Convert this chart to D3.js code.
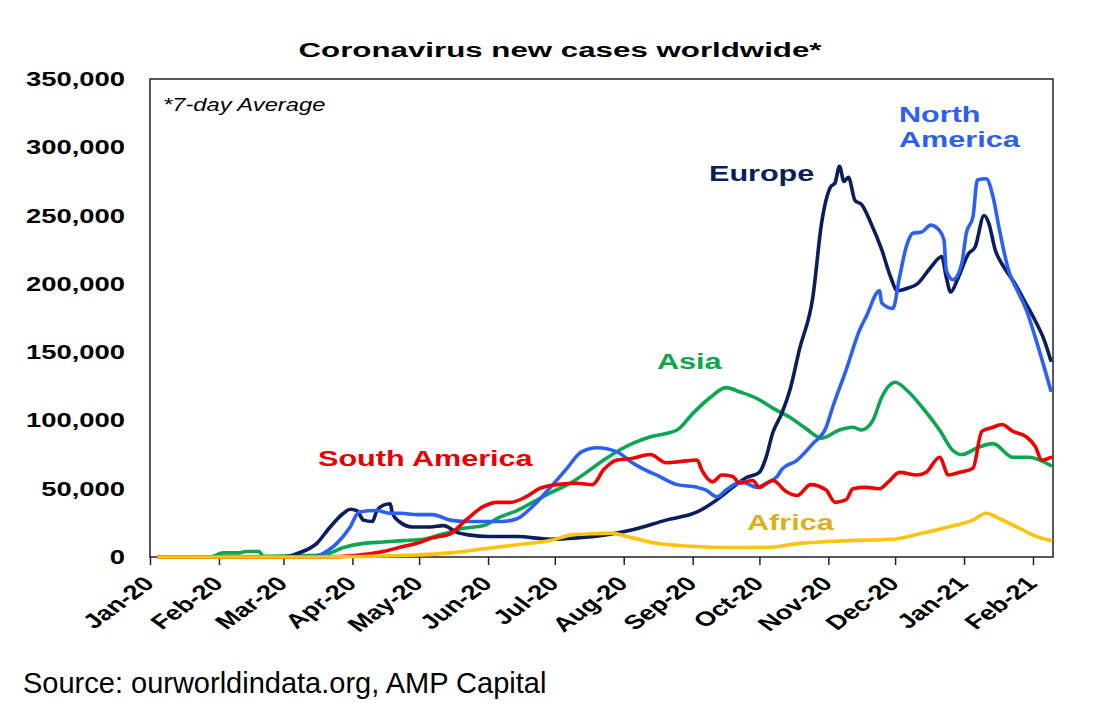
<!DOCTYPE html>
<html>
<head>
<meta charset="utf-8">
<script src="https://cdn.jsdelivr.net/npm/d3@7"></script>
<style>
  body { margin: 0; background: #fff; }
  text { font-family: "Liberation Sans", Arial, sans-serif; }
</style>
</head>
<body>
<svg id="chart" width="1098" height="720"></svg>
<script>
// 7-day average new cases
const europe = [
  ["2020-01-05", 0], ["2020-03-01", 0], ["2020-03-08", 3000], ["2020-03-16", 10000],
  ["2020-03-22", 22000], ["2020-03-28", 32000], ["2020-03-31", 35000], ["2020-04-03", 34000],
  ["2020-04-06", 27000], ["2020-04-10", 26000], ["2020-04-12", 34000], ["2020-04-15", 38000],
  ["2020-04-18", 39000], ["2020-04-19", 32000], ["2020-04-22", 26000], ["2020-04-28", 22000],
  ["2020-05-06", 22000], ["2020-05-12", 23000], ["2020-05-18", 18000], ["2020-05-24", 16000],
  ["2020-06-01", 15000], ["2020-06-14", 15000], ["2020-06-29", 13000], ["2020-07-11", 14000],
  ["2020-07-23", 16000], ["2020-08-05", 20000], ["2020-08-20", 27000], ["2020-09-03", 33000],
  ["2020-09-12", 42000], ["2020-09-19", 51000], ["2020-09-25", 58000], ["2020-10-01", 62000],
  ["2020-10-04", 73000], ["2020-10-07", 91000], ["2020-10-11", 105000], ["2020-10-15", 124000],
  ["2020-10-19", 152000], ["2020-10-25", 190000], ["2020-10-29", 245000], ["2020-11-02", 271000],
  ["2020-11-04", 274000], ["2020-11-06", 286000], ["2020-11-08", 275000], ["2020-11-10", 278000],
  ["2020-11-13", 261000], ["2020-11-16", 258000], ["2020-11-20", 245000], ["2020-11-25", 225000],
  ["2020-11-29", 205000], ["2020-12-02", 195000], ["2020-12-07", 197000], ["2020-12-11", 200000],
  ["2020-12-17", 212000], ["2020-12-22", 220000], ["2020-12-24", 205000], ["2020-12-26", 194000],
  ["2020-12-29", 203000], ["2021-01-03", 222000], ["2021-01-06", 227000], ["2021-01-10", 250000],
  ["2021-01-12", 245000], ["2021-01-15", 225000], ["2021-01-19", 212000], ["2021-01-24", 200000],
  ["2021-01-28", 188000], ["2021-02-02", 173000], ["2021-02-06", 159000], ["2021-02-09", 144000]
];

const northAmerica = [
  ["2020-01-05", 0], ["2020-03-14", 0], ["2020-03-18", 2000], ["2020-03-25", 10000],
  ["2020-03-31", 22000], ["2020-04-04", 33000], ["2020-04-12", 34000], ["2020-04-18", 32000],
  ["2020-04-23", 32000], ["2020-04-30", 31000], ["2020-05-07", 31000], ["2020-05-15", 27000],
  ["2020-05-22", 26000], ["2020-05-29", 26000], ["2020-06-07", 26000], ["2020-06-14", 28000],
  ["2020-06-21", 37000], ["2020-06-29", 51000], ["2020-07-06", 64000], ["2020-07-13", 77000],
  ["2020-07-20", 80000], ["2020-07-29", 77000], ["2020-08-04", 70000], ["2020-08-08", 66000],
  ["2020-08-17", 59000], ["2020-08-25", 53000], ["2020-09-03", 51000], ["2020-09-07", 49000],
  ["2020-09-12", 44000], ["2020-09-16", 49000], ["2020-09-23", 55000], ["2020-09-30", 51000],
  ["2020-10-04", 54000], ["2020-10-09", 59000], ["2020-10-11", 64000], ["2020-10-18", 71000],
  ["2020-10-25", 83000], ["2020-10-31", 95000], ["2020-11-03", 110000], ["2020-11-09", 137000],
  ["2020-11-15", 166000], ["2020-11-18", 176000], ["2020-11-24", 195000], ["2020-11-25", 186000],
  ["2020-11-30", 182000], ["2020-12-03", 205000], ["2020-12-06", 227000], ["2020-12-09", 237000],
  ["2020-12-13", 238000], ["2020-12-17", 243000], ["2020-12-21", 239000], ["2020-12-23", 232000],
  ["2020-12-24", 210000], ["2020-12-27", 203000], ["2020-12-31", 215000], ["2021-01-02", 237000],
  ["2021-01-05", 249000], ["2021-01-07", 276000], ["2021-01-11", 277000], ["2021-01-14", 264000],
  ["2021-01-17", 239000], ["2021-01-21", 210000], ["2021-01-25", 195000], ["2021-01-29", 181000],
  ["2021-02-02", 161000], ["2021-02-09", 122000]
];

const asia = [
  ["2020-01-05", 0], ["2020-01-28", 0], ["2020-02-03", 3000], ["2020-02-10", 3000],
  ["2020-02-13", 4000], ["2020-02-19", 4000], ["2020-02-21", 500], ["2020-03-08", 1000],
  ["2020-03-19", 1500], ["2020-03-28", 7000], ["2020-04-06", 10000], ["2020-04-15", 11000],
  ["2020-04-24", 12000], ["2020-05-03", 13000], ["2020-05-12", 17000], ["2020-05-21", 21000],
  ["2020-05-30", 23000], ["2020-06-06", 29000], ["2020-06-14", 34000], ["2020-06-21", 40000],
  ["2020-06-29", 47000], ["2020-07-08", 54000], ["2020-07-17", 64000], ["2020-07-23", 71000],
  ["2020-08-01", 80000], ["2020-08-13", 88000], ["2020-08-25", 93000], ["2020-09-01", 105000],
  ["2020-09-09", 117000], ["2020-09-16", 124000], ["2020-09-22", 121000], ["2020-09-30", 116000],
  ["2020-10-07", 109000], ["2020-10-15", 102000], ["2020-10-22", 94000], ["2020-10-29", 87000],
  ["2020-11-06", 93000], ["2020-11-12", 95000], ["2020-11-16", 93000], ["2020-11-21", 100000],
  ["2020-11-25", 117000], ["2020-12-01", 128000], ["2020-12-07", 121000], ["2020-12-13", 110000],
  ["2020-12-21", 93000], ["2020-12-27", 78000], ["2020-12-31", 75000], ["2021-01-07", 80000],
  ["2021-01-14", 83000], ["2021-01-23", 73000], ["2021-01-30", 73000], ["2021-02-09", 67000]
];

const southAmerica = [
  ["2020-01-05", 0], ["2020-03-20", 0], ["2020-04-15", 4000], ["2020-04-22", 7000],
  ["2020-04-30", 10000], ["2020-05-07", 14000], ["2020-05-15", 17000], ["2020-05-22", 27000],
  ["2020-05-30", 37000], ["2020-06-05", 40000], ["2020-06-11", 40000], ["2020-06-18", 44000],
  ["2020-06-24", 50000], ["2020-07-02", 53000], ["2020-07-11", 54000], ["2020-07-18", 53000],
  ["2020-07-23", 64000], ["2020-07-29", 71000], ["2020-08-04", 72000], ["2020-08-13", 75000],
  ["2020-08-20", 69000], ["2020-08-27", 70000], ["2020-09-03", 71000], ["2020-09-05", 64000],
  ["2020-09-10", 55000], ["2020-09-14", 60000], ["2020-09-19", 59000], ["2020-09-22", 54000],
  ["2020-09-28", 56000], ["2020-10-01", 51000], ["2020-10-07", 56000], ["2020-10-13", 48000],
  ["2020-10-18", 45000], ["2020-10-24", 53000], ["2020-10-31", 49000], ["2020-11-04", 40000],
  ["2020-11-09", 42000], ["2020-11-12", 50000], ["2020-11-18", 51000], ["2020-11-24", 50000],
  ["2020-11-28", 55000], ["2020-12-03", 62000], ["2020-12-11", 60000], ["2020-12-15", 62000],
  ["2020-12-21", 73000], ["2020-12-25", 60000], ["2020-12-30", 62000], ["2021-01-05", 65000],
  ["2021-01-09", 92000], ["2021-01-14", 95000], ["2021-01-18", 97000], ["2021-01-23", 92000],
  ["2021-01-29", 88000], ["2021-02-02", 81000], ["2021-02-05", 71000], ["2021-02-09", 73000]
];

const africa = [
  ["2020-01-05", 0], ["2020-03-15", 0], ["2020-04-30", 1500], ["2020-05-15", 3000],
  ["2020-05-30", 6000], ["2020-06-14", 9000], ["2020-06-29", 12000], ["2020-07-08", 16000],
  ["2020-07-17", 17000], ["2020-07-26", 17500], ["2020-08-05", 14000], ["2020-08-16", 10000],
  ["2020-08-29", 8000], ["2020-09-14", 7000], ["2020-10-04", 7000], ["2020-10-19", 10000],
  ["2020-11-10", 12000], ["2020-11-30", 13000], ["2020-12-12", 17000], ["2020-12-25", 22000],
  ["2021-01-05", 27000], ["2021-01-11", 32000], ["2021-01-17", 28000], ["2021-01-26", 21000],
  ["2021-02-01", 16000], ["2021-02-09", 12000]
];

const yTicks = [0, 50000, 100000, 150000, 200000, 250000, 300000, 350000];

// drawn back to front
const regions = [
  { name: "Asia", data: asia, color: "#0ba64f" },
  { name: "Europe", data: europe, color: "#0a1d5c" },
  { name: "North America", data: northAmerica, color: "#2b60f2" },
  { name: "South America", data: southAmerica, color: "#f00000" },
  { name: "Africa", data: africa, color: "#ffc20e" }
];

const stretch = 1.37; // the reference text is drawn wide

const svg = d3.select("#chart");
const plotLeft = 150, plotRight = 1053, plotTop = 79, plotBottom = 557;

const parse = d3.timeParse("%Y-%m-%d");
const x = d3.scaleTime()
  .domain([new Date(2020, 0, 1), new Date(2021, 1, 10)])
  .range([plotLeft, plotRight]);
const y = d3.scaleLinear().domain([0, 350000]).range([plotBottom, plotTop]);

// title
svg.append("text")
  .attr("transform", `translate(560,57) scale(1.49,1)`)
  .attr("text-anchor", "middle")
  .attr("font-size", 21)
  .attr("font-weight", "bold")
  .text("Coronavirus new cases worldwide*");

// y labels
svg.append("g").selectAll("text")
  .data(yTicks)
  .join("text")
  .attr("transform", (d) => `translate(125,${y(d) + 7}) scale(${stretch},1)`)
  .attr("text-anchor", "end")
  .attr("font-size", 20)
  .attr("font-weight", "bold")
  .text(d3.format(","));

// x axis with monthly ticks
const xAxis = svg.append("g")
  .attr("transform", `translate(0,${plotBottom})`)
  .call(d3.axisBottom(x).ticks(d3.timeMonth.every(1)).tickFormat(d3.timeFormat("%b-%y")).tickSize(8));
xAxis.select(".domain").remove();
xAxis.selectAll("line").attr("stroke", "#222").attr("stroke-width", 1.5);
xAxis.selectAll("text")
  .attr("x", null).attr("dy", null).attr("y", null)
  .attr("transform", `translate(5,28) scale(${stretch},1) rotate(-45)`)
  .attr("text-anchor", "end")
  .attr("font-size", 20)
  .attr("font-weight", "bold")
  .attr("font-family", "Liberation Sans, Arial, sans-serif")
  .attr("fill", "#000");

// plot frame
svg.append("rect")
  .attr("x", plotLeft).attr("y", plotTop)
  .attr("width", plotRight - plotLeft).attr("height", plotBottom - plotTop)
  .attr("fill", "none")
  .attr("stroke", "#222")
  .attr("stroke-width", 1.5);

svg.append("text")
  .attr("transform", `translate(163,111) scale(1.25,1)`)
  .attr("font-size", 19)
  .attr("font-style", "italic")
  .text("*7-day Average");

// series lines
const line = d3.line()
  .x((d) => x(parse(d[0])))
  .y((d) => y(d[1]))
  .curve(d3.curveMonotoneX);

svg.append("g").selectAll("path")
  .data(regions)
  .join("path")
  .attr("d", (d) => line(d.data))
  .attr("fill", "none")
  .attr("stroke", (d) => d.color)
  .attr("stroke-width", 3.6)
  .attr("stroke-linejoin", "round")
  .attr("stroke-linecap", "round");

// series labels
const labels = [
  { lines: ["Europe"], x: 709, y: 181, color: "#0a1d5c" },
  { lines: ["North", "America"], x: 899, y: 122, color: "#2b60f2" },
  { lines: ["Asia"], x: 657, y: 369, color: "#0ba64f" },
  { lines: ["South America"], x: 318, y: 466, color: "#e80000" },
  { lines: ["Africa"], x: 747, y: 530, color: "#dcb01c" }
];
labels.forEach((l) => {
  l.lines.forEach((t, i) => {
    svg.append("text")
      .attr("transform", `translate(${l.x},${l.y + i * 25}) scale(1.39,1)`)
      .attr("font-size", 22)
      .attr("font-weight", "bold")
      .attr("fill", l.color)
      .text(t);
  });
});

svg.append("text")
  .attr("x", 23).attr("y", 693)
  .attr("font-size", 29)
  .text("Source: ourworldindata.org, AMP Capital");
</script>
</body>
</html>
